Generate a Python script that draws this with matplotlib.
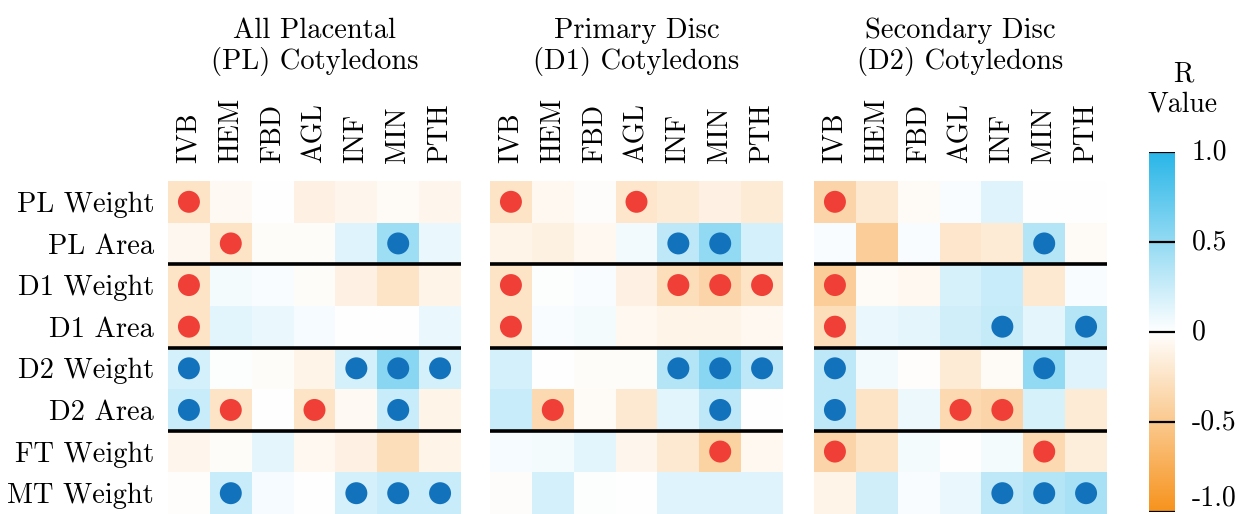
import matplotlib
matplotlib.use("Agg")
import matplotlib.pyplot as plt
import numpy as np
from matplotlib.colors import LinearSegmentedColormap

plt.rcParams["font.family"] = "serif"
plt.rcParams["font.serif"] = ["cmr10"]
plt.rcParams["mathtext.fontset"] = "cm"
plt.rcParams["axes.formatter.use_mathtext"] = True

# outcome measures (rows) and lesion types (columns)
rows = ["PL Weight", "PL Area", "D1 Weight", "D1 Area",
        "D2 Weight", "D2 Area", "FT Weight", "MT Weight"]
cols = ["IVB", "HEM", "FBD", "AGL", "INF", "MIN", "PTH"]
titles = ["All Placental\n(PL) Cotyledons",
          "Primary Disc\n(D1) Cotyledons",
          "Secondary Disc\n(D2) Cotyledons"]

# R values, all placental cotyledons
r_pl = [
    [-0.25, -0.05, 0.00, -0.12, -0.08, -0.04, -0.08],
    [-0.07, -0.25, -0.03, -0.03, 0.15, 0.45, 0.10],
    [-0.25, 0.05, 0.03, -0.03, -0.12, -0.25, -0.10],
    [-0.25, 0.13, 0.10, 0.04, 0.00, 0.00, 0.10],
    [0.20, 0.01, -0.03, -0.10, 0.20, 0.55, 0.20],
    [0.25, -0.25, 0.00, -0.25, -0.05, 0.25, -0.10],
    [-0.08, -0.03, 0.12, -0.06, -0.12, -0.30, -0.10],
    [-0.01, 0.25, 0.04, 0.00, 0.20, 0.25, 0.25],
]
# R values, primary disc cotyledons
r_d1 = [
    [-0.25, -0.06, -0.02, -0.22, -0.18, -0.12, -0.18],
    [-0.10, -0.13, -0.06, 0.06, 0.30, 0.50, 0.20],
    [-0.25, 0.01, 0.03, -0.12, -0.30, -0.38, -0.25],
    [-0.25, 0.03, 0.05, -0.06, -0.10, -0.10, -0.06],
    [0.20, 0.00, -0.03, -0.03, 0.35, 0.55, 0.30],
    [0.25, -0.35, -0.04, -0.20, 0.13, 0.30, 0.00],
    [0.04, 0.05, 0.13, -0.08, -0.20, -0.40, -0.06],
    [-0.02, 0.20, 0.01, 0.00, 0.15, 0.15, 0.15],
]
# R values, secondary disc cotyledons
r_d2 = [
    [-0.38, -0.20, -0.04, 0.03, 0.15, 0.00, 0.00],
    [0.03, -0.45, 0.03, -0.22, -0.18, 0.35, -0.04],
    [-0.45, -0.04, -0.06, 0.18, 0.25, -0.20, 0.03],
    [-0.30, 0.10, 0.12, 0.22, 0.27, 0.12, 0.35],
    [0.30, 0.06, -0.01, -0.18, -0.04, 0.50, 0.15],
    [0.30, -0.25, 0.08, -0.35, -0.38, 0.18, -0.18],
    [-0.38, -0.25, 0.05, 0.00, 0.05, -0.35, -0.15],
    [-0.10, 0.22, 0.03, 0.10, 0.30, 0.35, 0.40],
]

# significant correlations (1 = dot)
sig_pl = [
    [1, 0, 0, 0, 0, 0, 0],
    [0, 1, 0, 0, 0, 1, 0],
    [1, 0, 0, 0, 0, 0, 0],
    [1, 0, 0, 0, 0, 0, 0],
    [1, 0, 0, 0, 1, 1, 1],
    [1, 1, 0, 1, 0, 1, 0],
    [0, 0, 0, 0, 0, 0, 0],
    [0, 1, 0, 0, 1, 1, 1],
]
sig_d1 = [
    [1, 0, 0, 1, 0, 0, 0],
    [0, 0, 0, 0, 1, 1, 0],
    [1, 0, 0, 0, 1, 1, 1],
    [1, 0, 0, 0, 0, 0, 0],
    [0, 0, 0, 0, 1, 1, 1],
    [0, 1, 0, 0, 0, 1, 0],
    [0, 0, 0, 0, 0, 1, 0],
    [0, 0, 0, 0, 0, 0, 0],
]
sig_d2 = [
    [1, 0, 0, 0, 0, 0, 0],
    [0, 0, 0, 0, 0, 1, 0],
    [1, 0, 0, 0, 0, 0, 0],
    [1, 0, 0, 0, 1, 0, 1],
    [1, 0, 0, 0, 0, 1, 0],
    [1, 0, 0, 1, 1, 0, 0],
    [1, 0, 0, 0, 0, 1, 0],
    [0, 0, 0, 0, 1, 1, 1],
]

cbar_ticks = [-1.0, -0.5, 0, 0.5, 1.0]
cbar_labels = ["-1.0", "-0.5", "0", "0.5", "1.0"]

cmap = LinearSegmentedColormap.from_list(
    "orange_blue", ["#f7931d", "#ffffff", "#29b6e8"])
dot_neg = "#ef3f36"
dot_pos = "#1273bc"
FS = 20

fig = plt.figure(figsize=(12.44, 5.14), dpi=100)
W, H = 1244, 514
panel_lefts = [168, 490, 814]
panel_w = 293
top = 181

for i, (vals, sig, title) in enumerate(zip([r_pl, r_d1, r_d2],
                                           [sig_pl, sig_d1, sig_d2], titles)):
    ax = fig.add_axes([panel_lefts[i] / W, 0, panel_w / W, (H - top) / H])
    vals = np.array(vals)
    sig = np.array(sig)
    ax.imshow(vals, cmap=cmap, vmin=-1, vmax=1, aspect="auto",
              interpolation="nearest")
    yy, xx = np.nonzero(sig)
    colors = [dot_neg if vals[y, x] < 0 else dot_pos for y, x in zip(yy, xx)]
    ax.scatter(xx, yy, s=250, c=colors, linewidths=0, zorder=3)
    for yline in [1.5, 3.5, 5.5]:
        ax.axhline(yline, color="black", lw=2.6, zorder=4)
    ax.set_xlim(-0.5, len(cols) - 0.5)
    ax.set_ylim(len(rows) - 0.5, -0.5)
    ax.xaxis.tick_top()
    ax.set_xticks(range(len(cols)))
    ax.set_xticklabels(cols, rotation=90, fontsize=FS)
    ax.tick_params(axis="x", length=0, pad=13)
    ax.set_yticks(range(len(rows)))
    if i == 0:
        ax.set_yticklabels(rows, fontsize=FS + 0.5)
        ax.tick_params(axis="y", length=0, pad=10)
    else:
        ax.set_yticks([])
    for sp in ax.spines.values():
        sp.set_visible(False)
    fig.text((panel_lefts[i] + panel_w / 2) / W, 1 - 76 / H, title,
             ha="center", va="bottom", fontsize=FS + 0.5, linespacing=1.12)

# colour bar
cax = fig.add_axes([1149 / W, 2 / H, 26 / W, 360 / H])
grad = np.linspace(-1, 1, 256).reshape(-1, 1)
cax.imshow(grad, cmap=cmap, vmin=-1, vmax=1, aspect="auto",
           origin="lower", extent=[0, 1, -1, 1])
for t in cbar_ticks:
    cax.axhline(t, color="black", lw=1.6)
cax.set_xlim(0, 1)
cax.set_ylim(-1.0, 1.0)
cax.set_xticks([])
cax.set_yticks([])
for t, lab in zip(cbar_ticks, cbar_labels):
    # the lowest label sits on top of its tick so it stays inside the figure
    cax.text(1.65, t, lab, ha="left", va="bottom" if t == -1.0 else "center",
             fontsize=FS, transform=cax.get_yaxis_transform())
for sp in cax.spines.values():
    sp.set_visible(False)
fig.text(1183 / W, 1 - 117 / H, "R\nValue", ha="center", va="bottom",
         fontsize=FS, linespacing=1.15)

fig.savefig("out.png", dpi=100)
